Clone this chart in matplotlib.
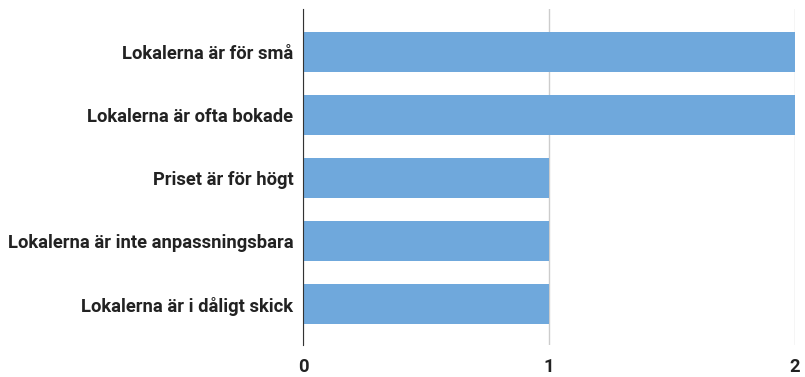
import matplotlib.pyplot as plt

plt.rcParams['font.family'] = ['Roboto', 'DejaVu Sans']

labels = ["Lokalerna är för små",
          "Lokalerna är ofta bokade",
          "Priset är för högt",
          "Lokalerna är inte anpassningsbara",
          "Lokalerna är i dåligt skick"]
counts = [2, 2, 1, 1, 1]
ticks = [0, 1, 2]

fig = plt.figure(figsize=(8.05, 3.77), dpi=100)
ax = fig.add_axes([303 / 805, 1 - 345 / 377, 492 / 805, 336 / 377])

pos = range(len(labels))
ax.barh(pos, counts, height=0.64, color="#6fa8dc", zorder=2)

ax.set_xlim(0, 2)
ax.set_ylim(4.65, -0.68)
ax.set_yticks(list(pos))
ax.set_yticklabels(labels, fontsize=13.2, fontweight="bold", color="#222222")
ax.set_xticks(ticks)
ax.set_xticklabels([str(t) for t in ticks], fontsize=13.2, fontweight="bold", color="#222222")
ax.tick_params(length=0)
ax.tick_params(axis="y", pad=7)
ax.tick_params(axis="x", pad=9)

ax.grid(axis="x", color="#cccccc", linewidth=1, zorder=1)
for side in ["top", "right", "bottom"]:
    ax.spines[side].set_visible(False)
ax.spines["left"].set_color("#333333")
ax.spines["left"].set_zorder(3)

fig.savefig("out.png", dpi=100)
